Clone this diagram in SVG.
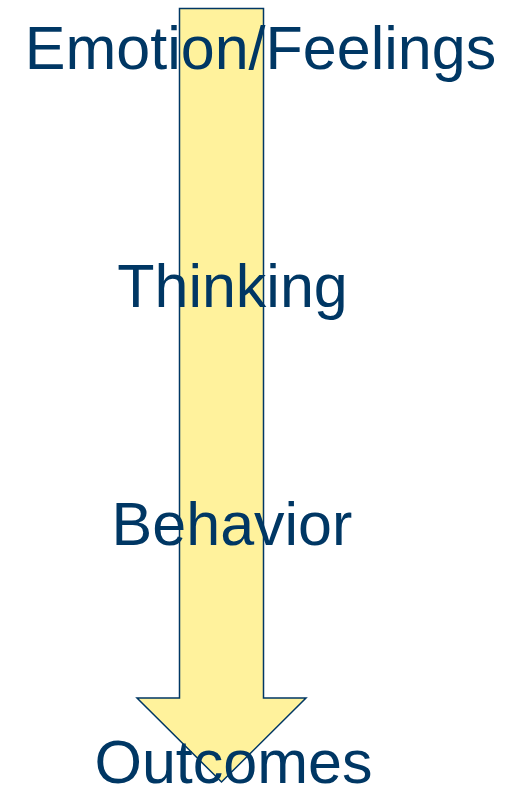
<svg xmlns="http://www.w3.org/2000/svg" width="513" height="792" viewBox="0 0 513 792">
<style>
.lbl{font-family:"Liberation Sans",Arial,sans-serif;font-size:61px;fill:#003764;text-anchor:middle}
.arrow{fill:#FFF29C;stroke:#003764;stroke-width:1.5;stroke-linejoin:miter}
</style>
<rect width="513" height="792" fill="#ffffff"/>
<g id="connectors">
<path class="arrow" d="M179.5,8.5 L263.5,8.5 L263.5,698 L306,698 L221.5,782 L137,698 L179.5,698 Z"/>
</g>
<g id="node-emotion"><text class="lbl" x="260.5" y="69">Emotion/Feelings</text></g>
<g id="node-thinking"><text class="lbl" x="232.5" y="307">Thinking</text></g>
<g id="node-behavior"><text class="lbl" x="232" y="545">Behavior</text></g>
<g id="node-outcomes"><text class="lbl" x="233.5" y="783">Outcomes</text></g>
</svg>
